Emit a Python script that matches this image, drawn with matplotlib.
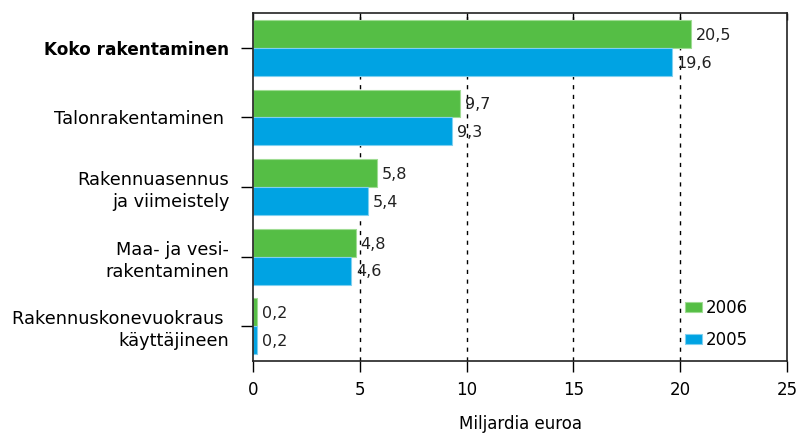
import numpy as np
import matplotlib.pyplot as plt

# ── Data ───────────────────────────────────────────────────────────────
categories = [
    "Koko rakentaminen",
    "Talonrakentaminen ",
    "Rakennuasennus\nja viimeistely",
    "Maa- ja vesi-\nrakentaminen",
    "Rakennuskonevuokraus \nkäyttäjineen",
]
values_2006 = [20.5, 9.7, 5.8, 4.8, 0.2]
values_2005 = [19.6, 9.3, 5.4, 4.6, 0.2]
x_ticks = [0, 5, 10, 15, 20, 25]

green = "#55BE45"
blue = "#00A3E3"

plt.rcParams["font.family"] = "DejaVu Sans"

fig = plt.figure(figsize=(7.97, 4.34), dpi=100)
ax = fig.add_axes([0.3174, 0.168, 0.6701, 0.802])

y = np.arange(len(categories))
h = 0.4
b1 = ax.barh(y - h / 2, values_2006, height=h, color=green, edgecolor="#9fdc93",
             linewidth=0.8, label="2006", zorder=2)
b2 = ax.barh(y + h / 2, values_2005, height=h, color=blue, edgecolor="#7fd0f0",
             linewidth=0.8, label="2005", zorder=2)

# value labels with comma decimals
for bars, vals in [(b1, values_2006), (b2, values_2005)]:
    for bar, v in zip(bars, vals):
        ax.annotate(f"{v:.1f}".replace(".", ","),
                    (bar.get_width(), bar.get_y() + bar.get_height() / 2),
                    xytext=(3.5, -1), textcoords="offset points",
                    ha="left", va="center", fontsize=11.5, color="#222222")

# dashed vertical grid lines
for xv in x_ticks[1:-1]:
    ax.axvline(xv, color="black", linestyle=(0, (3, 4)), linewidth=1, zorder=1)

ax.set_xlim(0, 25)
ax.set_ylim(len(categories) - 0.5, -0.5)
ax.set_xticks(x_ticks)
ax.set_yticks(y)
ax.set_yticklabels(categories, fontsize=12.8, linespacing=1.3)
ax.get_yticklabels()[0].set_fontweight("bold")
ax.get_yticklabels()[0].set_fontsize(12.2)
ax.tick_params(axis="y", length=9, width=1, direction="out", pad=8)
ax.tick_params(axis="x", length=8, width=1, direction="out", labelsize=12, pad=6,
               top=True)
for sp in ax.spines.values():
    sp.set_linewidth(1.2)
    sp.set_color("#222222")

# top ticks point inward
for t in ax.xaxis.get_major_ticks():
    t.tick2line.set_marker(3)  # TICKDOWN
    t.tick2line.set_markersize(5)

ax.set_xlabel("Miljardia euroa", fontsize=12, labelpad=12)

ax.legend(loc="lower right", bbox_to_anchor=(0.955, -0.008), frameon=False,
          fontsize=12, handlelength=1.0, handleheight=0.5, handletextpad=0.25,
          labelspacing=0.85, borderaxespad=0.5)

fig.savefig("out.png", dpi=100)
